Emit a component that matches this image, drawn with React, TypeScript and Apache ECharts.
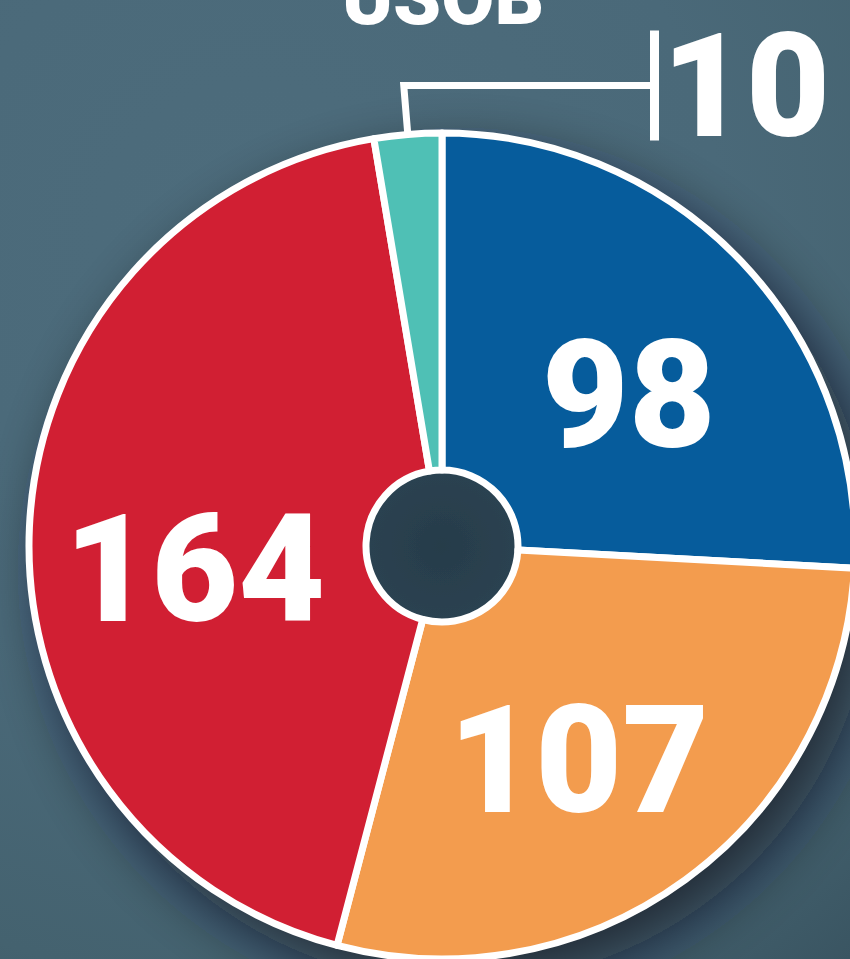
import React, { useEffect, useRef } from "react";
import * as echarts from "echarts";

const title = "USOB";
const categories = ["Blue", "Orange", "Red", "USOB"];
const seats = [98, 107, 164, 10];
const sliceColors = ["#065c9c", "#f39c4e", "#d11f33", "#4fc0b5"];
const outsideIndex = 3;
// small nudges of the inside labels, in pixels
const labelNudges: [number, number][] = [
  [7, 20],
  [-9, 15],
  [0, 35],
  [0, 0],
];

export default function App() {
  const ref = useRef<HTMLDivElement>(null);

  useEffect(() => {
    if (!ref.current) return;
    const chart = echarts.init(ref.current, undefined, { renderer: "svg" });
    const cx = 442;
    const cy = 546;
    const labelFont = "Roboto, 'Liberation Sans', sans-serif";

    const data = categories.map((name, i) => {
      const item: any = {
        name,
        value: seats[i],
        itemStyle: { color: sliceColors[i] },
      };
      if (i === outsideIndex) {
        item.label = {
          position: "outside",
          formatter: "{bar|}{gap|}{num|{c}}",
          rich: {
            bar: { backgroundColor: "#ffffff", width: 9, height: 110 },
            gap: { width: 3, height: 10 },
            num: {
              color: "#ffffff",
              fontFamily: labelFont,
              fontWeight: 900,
              fontSize: 145,
            },
          },
        };
        item.labelLine = {
          show: true,
          length: 49,
          length2: 240,
          lineStyle: { color: "#ffffff", width: 7, cap: "butt", join: "miter" },
        };
      }
      return item;
    });

    chart.setOption({
      animation: false,
      backgroundColor: "transparent",
      graphic: [
        {
          type: "text",
          x: cx + 1,
          y: -2,
          z: 10,
          style: {
            text: title,
            fill: "#ffffff",
            font: "900 77px Roboto, sans-serif",
            align: "center",
            verticalAlign: "middle",
          },
        },
      ],
      series: [
        {
          type: "pie",
          silent: true,
          z: 1,
          center: [cx, cy],
          radius: [0, 415],
          startAngle: 90,
          label: { show: false },
          labelLine: { show: false },
          data: [
            {
              value: 1,
              itemStyle: {
                color: {
                  type: "radial",
                  x: 0.5,
                  y: 0.5,
                  r: 0.5,
                  colorStops: [
                    { offset: 0, color: "#273c4a" },
                    { offset: 0.2, color: "#2b4352" },
                    { offset: 1, color: "#2b4352" },
                  ],
                },
                shadowBlur: 60,
                shadowColor: "rgba(8,20,32,0.7)",
                shadowOffsetX: 18,
                shadowOffsetY: 24,
              },
            },
          ],
        },
        {
          type: "pie",
          z: 2,
          center: [cx, cy],
          radius: [76, 413],
          startAngle: 90,
          clockwise: true,
          avoidLabelOverlap: false,
          itemStyle: { borderColor: "#ffffff", borderWidth: 7 },
          emphasis: { disabled: true },
          label: {
            show: true,
            position: "inside",
            formatter: "{c}",
            color: "#ffffff",
            fontFamily: labelFont,
            fontWeight: 900,
            fontSize: 150,
          },
          labelLine: { show: false },
          labelLayout: (params: any) => {
            const i = params.dataIndex;
            if (i !== outsideIndex) {
              const n = labelNudges[i] || [0, 0];
              return { dx: n[0], dy: n[1] };
            }
            const pts = params.labelLinePoints;
            if (!pts || pts.length < 2) return {};
            const p0 = pts[0];
            const p1 = pts[1];
            const endX = 650;
            return {
              x: endX,
              y: p1[1],
              align: "left",
              verticalAlign: "middle",
              labelLinePoints: [p0, p1, [endX + 4, p1[1]]],
            };
          },
          data,
        },
      ],
    });

    return () => chart.dispose();
  }, []);

  return (
    <div
      ref={ref}
      style={{
        position: "absolute",
        left: 0,
        top: 0,
        width: 850,
        height: 959,
        background:
          "radial-gradient(circle at 30% 25%, #4d6c7c 0%, #4a6979 50%, #44626f 80%, #3a5562 100%)",
      }}
    />
  );
}
